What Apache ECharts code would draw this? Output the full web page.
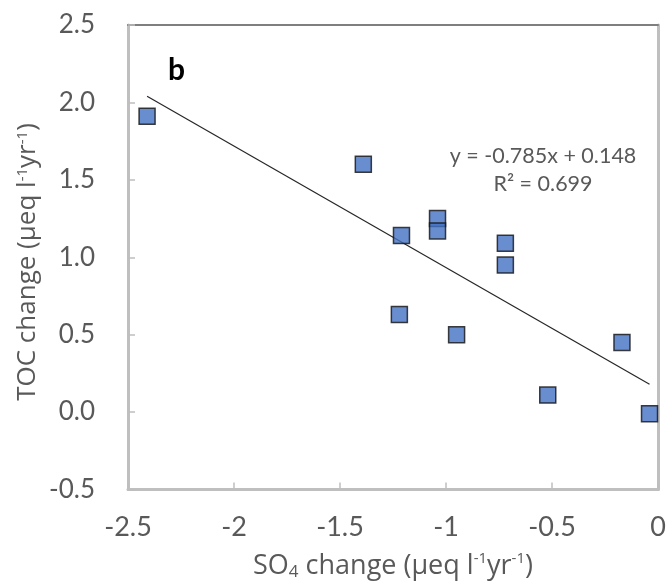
<!DOCTYPE html>
<html>
<head>
<meta charset="utf-8">
<script src="https://cdn.jsdelivr.net/npm/echarts@6/dist/echarts.min.js"></script>
<style>html,body{margin:0;padding:0;background:#fff}#c{width:669px;height:582px}</style>
</head>
<body>
<div id="c"></div>
<script>
const so4Change = [-2.41, -1.39, -1.21, -1.04, -1.04, -0.72, -0.72, -1.22, -0.95, -0.52, -0.17, -0.04];
const tocChange = [1.91, 1.60, 1.14, 1.25, 1.17, 1.09, 0.95, 0.63, 0.50, 0.11, 0.45, -0.01];
const trendSlope = -0.785;
const trendIntercept = 0.148;
const equationText = 'y = -0.785x + 0.148';
const r2Label = 'R² = 0.699';
const panelLabel = 'b';
const xAxisTitle = '{base|SO}{sub|4}{base| change (μeq l}{sup|-1}{base|yr}{sup|-1}{base|)}';
const yAxisTitle = '{base|TOC change (μeq l}{sup|-1}{base|yr}{sup|-1}{base|)}';

const points = so4Change.map((x, i) => [x, tocChange[i]]);
const xMinData = Math.min(...so4Change), xMaxData = Math.max(...so4Change);
const trend = [[xMinData, trendSlope * xMinData + trendIntercept], [xMaxData, trendSlope * xMaxData + trendIntercept]];

const FONT = 'Lato, "Open Sans", sans-serif';
const TFONT = '"Open Sans", Lato, sans-serif';
const GREY = '#595959';
const chart = echarts.init(document.getElementById('c'), null, {renderer: 'canvas'});
function richFor(size) {
  return {
    base: {fontSize: size, color: GREY, fill: GREY, fontFamily: TFONT},
    sub: {fontSize: Math.round(size * 0.62), color: GREY, fill: GREY, fontFamily: TFONT, verticalAlign: 'bottom', padding: [Math.round(size * 0.45), 0, 0, 0]},
    sup: {fontSize: Math.round(size * 0.56), color: GREY, fill: GREY, fontFamily: TFONT, verticalAlign: 'top', padding: [0, 0, Math.round(size * 0.38), 0]}
  };
}
chart.setOption({
  animation: false,
  grid: {left: 128, right: 11, top: 25, bottom: 92.5, containLabel: false, outerBoundsMode: 'none'},
  xAxis: [{
    type: 'value', min: -2.5, max: 0, interval: 0.5, position: 'bottom',
    axisLine: {show: true, onZero: false, lineStyle: {color: '#BFBFBF', width: 3}},
    axisTick: {show: true, inside: true, length: 7, lineStyle: {color: '#BFBFBF', width: 1.5}},
    splitLine: {show: false},
    axisLabel: {color: GREY, fontSize: 27, fontFamily: FONT, margin: 24, formatter: v => String(v)},
    name: xAxisTitle,
    nameLocation: 'middle', nameGap: 62,
    nameTextStyle: {rich: richFor(27)}
  }, {
    type: 'value', min: -2.5, max: 0, position: 'top',
    axisLine: {show: true, onZero: false, lineStyle: {color: '#7F7F7F', width: 2}},
    axisTick: {show: false}, axisLabel: {show: false}, splitLine: {show: false}
  }],
  yAxis: [{
    type: 'value', min: -0.5, max: 2.5, interval: 0.5, position: 'left',
    axisLine: {show: true, onZero: false, lineStyle: {color: '#BFBFBF', width: 3}},
    axisTick: {show: true, inside: true, length: 7, lineStyle: {color: '#BFBFBF', width: 1.5}},
    splitLine: {show: false},
    axisLabel: {color: GREY, fontSize: 26, fontFamily: FONT, margin: 33, formatter: v => v.toFixed(1)}
  }, {
    type: 'value', min: -0.5, max: 2.5, position: 'right',
    axisLine: {show: true, onZero: false, lineStyle: {color: '#BFBFBF', width: 3}},
    axisTick: {show: false}, axisLabel: {show: false}, splitLine: {show: false}
  }],
  series: [{
    type: 'line', data: trend, showSymbol: false, symbol: 'none',
    lineStyle: {color: '#262626', width: 1.2}, z: 2, silent: true
  }, {
    type: 'scatter', data: points, symbol: 'rect', symbolSize: 16,
    itemStyle: {color: '#4472C4', borderColor: '#111', borderWidth: 1.5}, z: 3
  }],
  graphic: [
    {type: 'text', x: 168, y: 55, style: {text: panelLabel, fontSize: 30, fontWeight: 'bold', fill: '#000', fontFamily: FONT}},
    {type: 'text', x: 543, y: 156, style: {text: equationText, fontSize: 21.5, fill: GREY, fontFamily: FONT, align: 'center', verticalAlign: 'middle'}},
    {type: 'text', x: 543, y: 184, style: {text: r2Label, fontSize: 21.5, fill: GREY, fontFamily: FONT, align: 'center', verticalAlign: 'middle'}},
    {type: 'text', x: 28, y: 262, rotation: Math.PI / 2,
     style: {text: yAxisTitle, rich: richFor(26), fill: GREY, align: 'center', verticalAlign: 'middle'}}
  ]
});
</script>
</body>
</html>
